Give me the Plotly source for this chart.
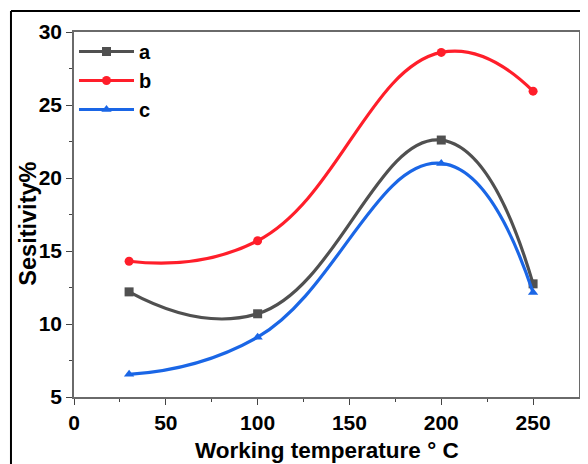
import plotly.graph_objects as go

temperature = [30, 100, 200, 250]
series_a = [12.2, 10.7, 22.6, 12.75]
series_b = [14.3, 15.7, 28.6, 25.95]
series_c = [6.55, 9.1, 21.0, 12.15]
names = ["a", "b", "c"]
colors = ["#505050", "#ff1e2a", "#1a66e6"]
symbols = ["square", "circle", "triangle-up"]
x_title = "Working temperature ° C"
y_title = "Sesitivity%"

FONT = "Liberation Sans, Arial, sans-serif"

fig = go.Figure()
for name, ys, col, sym in zip(names, [series_a, series_b, series_c], colors, symbols):
    fig.add_trace(go.Scatter(
        x=temperature, y=ys, name=name, mode="lines+markers",
        line=dict(color=col, width=3.2, shape="spline", smoothing=1.3),
        marker=dict(symbol=sym, size=9, color=col),
    ))

axis_common = dict(
    showline=True, mirror=True, linecolor="#6a6a6a", linewidth=1.6,
    ticks="outside", ticklen=6, tickwidth=1.2, tickcolor="#444",
    showgrid=False, zeroline=False, automargin=False,
    tickfont=dict(family=FONT, size=21, color="black", weight="bold"),
)

fig.update_xaxes(
    range=[0, 275], tickvals=[0, 50, 100, 150, 200, 250],
    minor=dict(tickvals=[25, 75, 125, 175, 225], ticks="outside", ticklen=3, tickcolor="#444"),
    **axis_common,
)
fig.update_yaxes(
    range=[5, 30], tickvals=[5, 10, 15, 20, 25, 30],
    minor=dict(tickvals=[7.5, 12.5, 17.5, 22.5, 27.5], ticks="outside", ticklen=3, tickcolor="#444"),
    **axis_common,
)

# axis titles
fig.add_annotation(text=x_title, xref="paper", yref="paper", x=0.5, y=0, yshift=-53,
                   xanchor="center", yanchor="middle", showarrow=False,
                   font=dict(family=FONT, size=22.5, color="black", weight="bold"))
fig.add_annotation(text=y_title, xref="paper", yref="paper", x=-0.091, y=0.475, textangle=-90,
                   xanchor="center", yanchor="middle", showarrow=False,
                   font=dict(family=FONT, size=23.5, color="black", weight="bold"))

# outer frame lines (top and left), as in the reference image
fig.add_shape(type="line", xref="paper", yref="paper", x0=-0.1248, x1=1.05, y0=1.0575, y1=1.0575,
              line=dict(color="black", width=2))
fig.add_shape(type="line", xref="paper", yref="paper", x0=-0.1248, x1=-0.1248, y0=1.0575, y1=-0.25,
              line=dict(color="black", width=2))

# page body has an 8px default margin, so the figure is 8px smaller each way
fig.update_layout(
    width=580, height=456,
    margin=dict(l=66, r=9, t=24, b=67),
    plot_bgcolor="white", paper_bgcolor="white",
    showlegend=True,
    legend=dict(x=0.0, y=1.0, xanchor="left", yanchor="top", bgcolor="rgba(0,0,0,0)",
                font=dict(family=FONT, size=20, color="black", weight="bold"),
                tracegroupgap=0, itemwidth=55),
)

fig.write_html("out.html")
